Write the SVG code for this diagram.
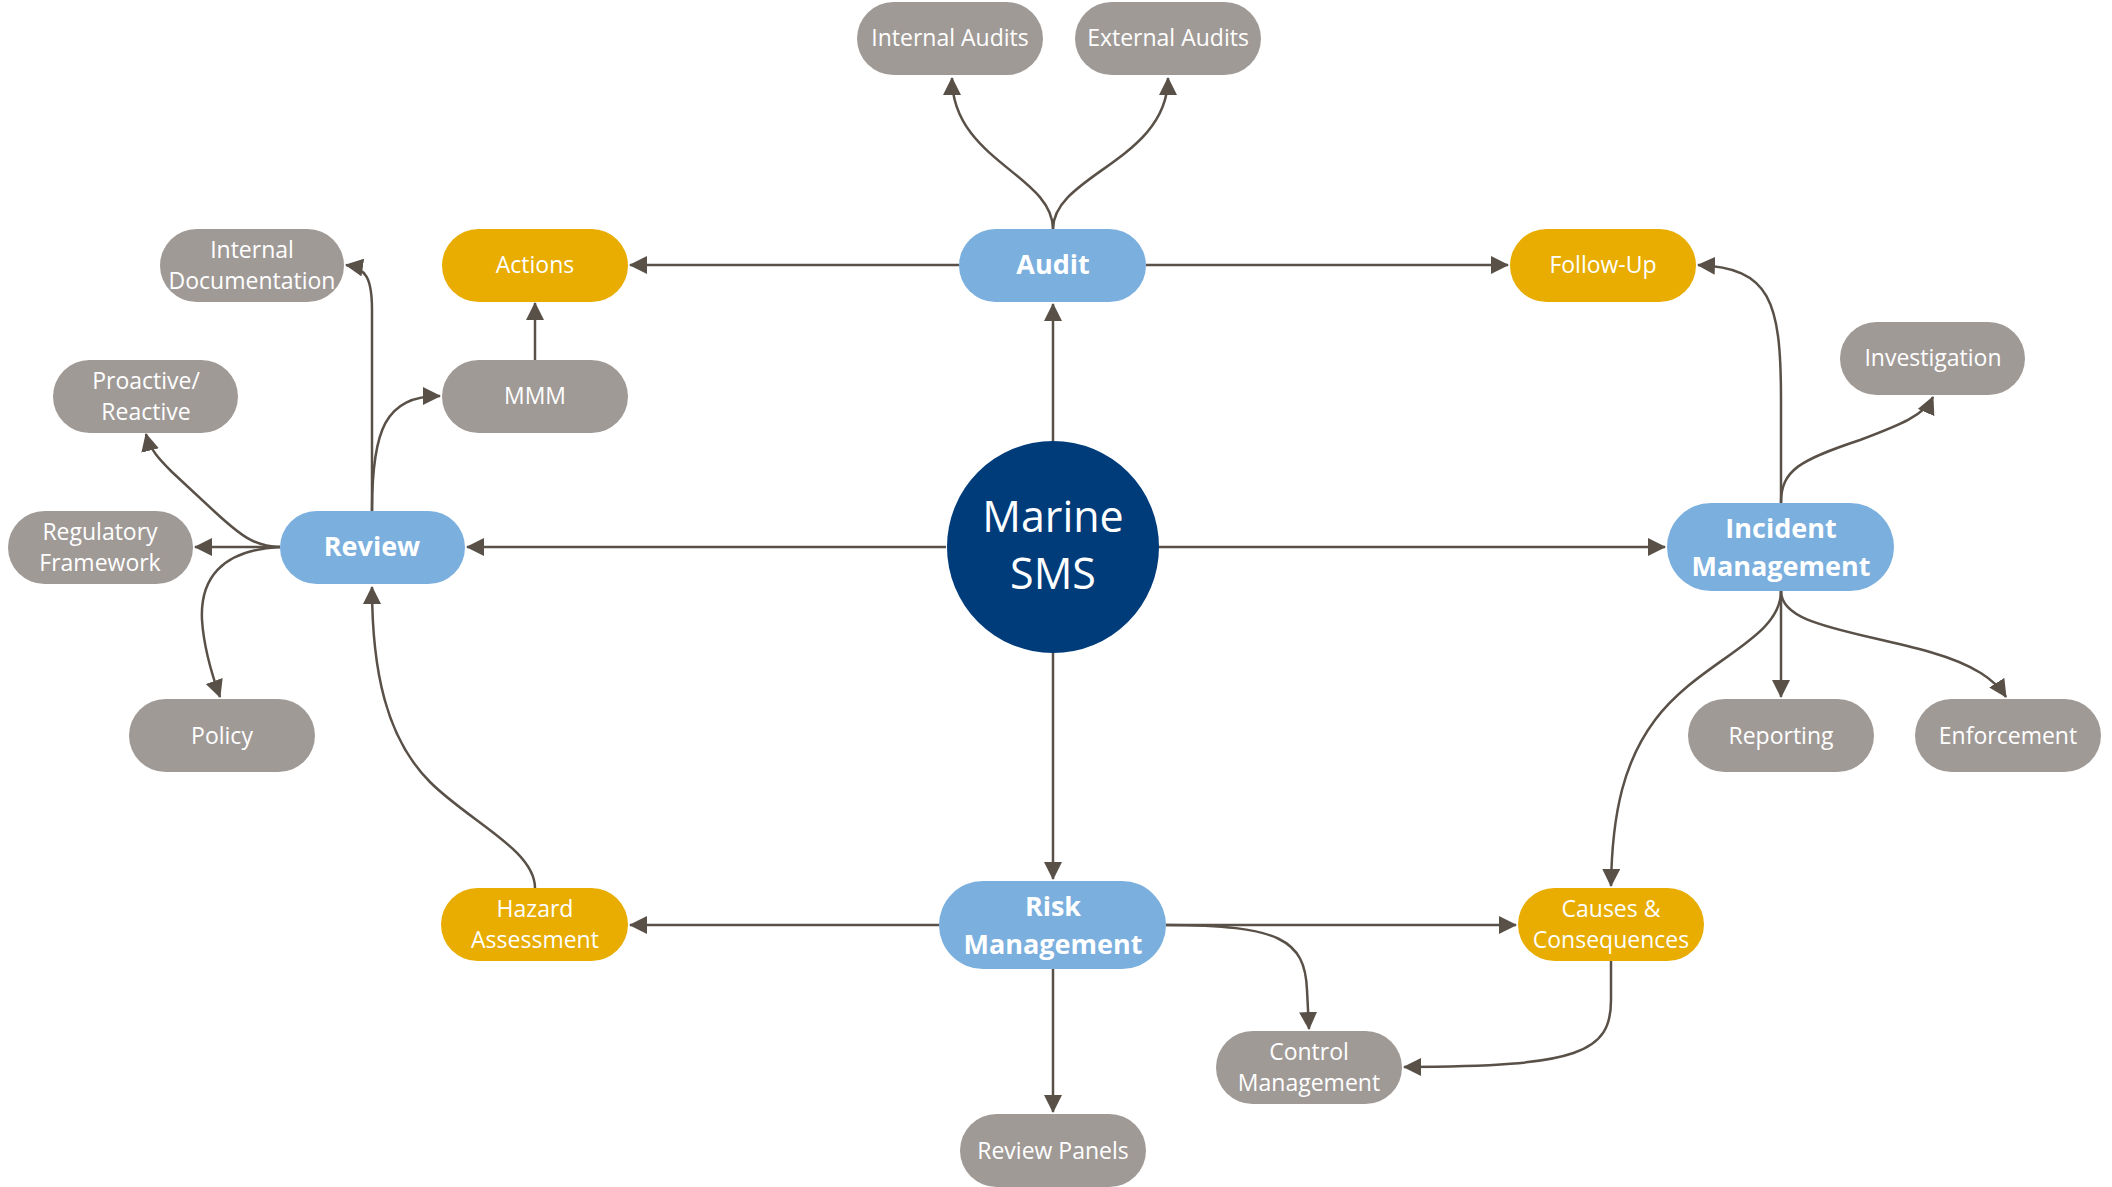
<svg xmlns="http://www.w3.org/2000/svg" width="2112" height="1187" viewBox="0 0 2112 1187">
<style>
.g{fill:#A09A97}
.y{fill:#E8AD00}
.b{fill:#7BAFDE}
.t{font-family:"Open Sans","Liberation Sans",sans-serif;font-size:23px;fill:#FFFFFF;text-anchor:middle}
.tb{font-family:"Open Sans","Liberation Sans",sans-serif;font-size:27px;font-weight:bold;fill:#FFFFFF;text-anchor:middle}
.tc{font-family:"Open Sans","Liberation Sans",sans-serif;font-size:43px;fill:#FFFFFF;text-anchor:middle}
.c{fill:none;stroke:#595048;stroke-width:2.5;marker-end:url(#ah)}
</style>
<defs>
<marker id="ah" markerUnits="userSpaceOnUse" markerWidth="18" markerHeight="18" refX="17" refY="9" orient="auto">
<path d="M0,0 L18,9 L0,18 Z" fill="#595048"/>
</marker>
</defs>
<rect width="2112" height="1187" fill="#FFFFFF"/>
<g id="connectors">
<path class="c" d="M1053,441 L1053,304"/>
<path class="c" d="M946,547 L467,547"/>
<path class="c" d="M1159,547 L1665,547"/>
<path class="c" d="M1053,653 L1053,879"/>
<path class="c" d="M959,265 L630,265"/>
<path class="c" d="M1146,265 L1508,265"/>
<path class="c" d="M1053,229 C1053,175 952,160 952,78"/>
<path class="c" d="M1053,229 C1053,175 1168,160 1168,78"/>
<path class="c" d="M372,511 L372,310 C372,278 366,268 346,265"/>
<path class="c" d="M372,511 C372,430 385,396 440,396"/>
<path class="c" d="M280,547 C255,547 240,535 215,512 L172,472 C160,460 150,450 146,434"/>
<path class="c" d="M280,547 L195,547"/>
<path class="c" d="M280,547 C220,550 200,580 202,620 C204,650 212,675 220,697"/>
<path class="c" d="M535,360 L535,303"/>
<path class="c" d="M535,888 C535,850 470,822 430,782 C386,738 372,670 372,587"/>
<path class="c" d="M939,925 L630,925"/>
<path class="c" d="M1166,925 L1516,925"/>
<path class="c" d="M1166,925 C1280,925 1305,940 1307,990 L1309,1029"/>
<path class="c" d="M1053,969 L1053,1112"/>
<path class="c" d="M1611,961 L1611,1000 C1611,1052 1580,1067 1404,1067"/>
<path class="c" d="M1781,503 L1781,400 C1781,300 1770,268 1698,265"/>
<path class="c" d="M1781,503 C1781,470 1800,460 1860,440 C1900,425 1925,415 1933,397"/>
<path class="c" d="M1781,591 L1781,697"/>
<path class="c" d="M1781,591 C1781,625 1850,630 1930,652 C1975,665 1995,680 2006,697"/>
<path class="c" d="M1781,591 C1781,640 1700,660 1655,720 C1625,760 1612,810 1611,886"/>
</g>
<g id="internal-audits"><rect class="g" x="857" y="2" width="186" height="73" rx="36.5"/><text class="t" x="950" y="46">Internal Audits</text></g>
<g id="external-audits"><rect class="g" x="1075" y="2" width="186" height="73" rx="36.5"/><text class="t" x="1168" y="46">External Audits</text></g>
<g id="audit"><rect class="b" x="959" y="229" width="187" height="73" rx="36.5"/><text class="tb" x="1053" y="274">Audit</text></g>
<g id="actions"><rect class="y" x="442" y="229" width="186" height="73" rx="36.5"/><text class="t" x="535" y="273">Actions</text></g>
<g id="follow-up"><rect class="y" x="1510" y="229" width="186" height="73" rx="36.5"/><text class="t" x="1603" y="273">Follow-Up</text></g>
<g id="internal-documentation"><rect class="g" x="160" y="229" width="184" height="73" rx="36.5"/><text class="t" x="252" y="257.5">Internal</text><text class="t" x="252" y="288.5">Documentation</text></g>
<g id="mmm"><rect class="g" x="442" y="360" width="186" height="73" rx="36.5"/><text class="t" x="535" y="404">MMM</text></g>
<g id="proactive-reactive"><rect class="g" x="53" y="360" width="185" height="73" rx="36.5"/><text class="t" x="146" y="388.5">Proactive/</text><text class="t" x="146" y="419.5">Reactive</text></g>
<g id="investigation"><rect class="g" x="1840" y="322" width="185" height="73" rx="36.5"/><text class="t" x="1933" y="366">Investigation</text></g>
<g id="regulatory-framework"><rect class="g" x="8" y="511" width="185" height="73" rx="36.5"/><text class="t" x="100" y="539.5">Regulatory</text><text class="t" x="100" y="570.5">Framework</text></g>
<g id="review"><rect class="b" x="280" y="511" width="185" height="73" rx="36.5"/><text class="tb" x="372" y="556">Review</text></g>
<g id="marine-sms"><circle cx="1053" cy="547" r="106" fill="#003B7A"/><text class="tc" x="1053" y="532">Marine</text><text class="tc" x="1053" y="589">SMS</text></g>
<g id="incident-management"><rect class="b" x="1667" y="503" width="227" height="88" rx="44"/><text class="tb" x="1781" y="538">Incident</text><text class="tb" x="1781" y="576">Management</text></g>
<g id="policy"><rect class="g" x="129" y="699" width="186" height="73" rx="36.5"/><text class="t" x="222" y="744">Policy</text></g>
<g id="reporting"><rect class="g" x="1688" y="699" width="186" height="73" rx="36.5"/><text class="t" x="1781" y="744">Reporting</text></g>
<g id="enforcement"><rect class="g" x="1915" y="699" width="186" height="73" rx="36.5"/><text class="t" x="2008" y="744">Enforcement</text></g>
<g id="hazard-assessment"><rect class="y" x="441" y="888" width="187" height="73" rx="36.5"/><text class="t" x="535" y="916.5">Hazard</text><text class="t" x="535" y="947.5">Assessment</text></g>
<g id="risk-management"><rect class="b" x="939" y="881" width="227" height="88" rx="44"/><text class="tb" x="1053" y="916">Risk</text><text class="tb" x="1053" y="954">Management</text></g>
<g id="causes-consequences"><rect class="y" x="1518" y="888" width="186" height="73" rx="36.5"/><text class="t" x="1611" y="916.5">Causes &amp;</text><text class="t" x="1611" y="947.5">Consequences</text></g>
<g id="control-management"><rect class="g" x="1216" y="1031" width="186" height="73" rx="36.5"/><text class="t" x="1309" y="1059.5">Control</text><text class="t" x="1309" y="1090.5">Management</text></g>
<g id="review-panels"><rect class="g" x="960" y="1114" width="186" height="73" rx="36.5"/><text class="t" x="1053" y="1159">Review Panels</text></g>
</svg>
